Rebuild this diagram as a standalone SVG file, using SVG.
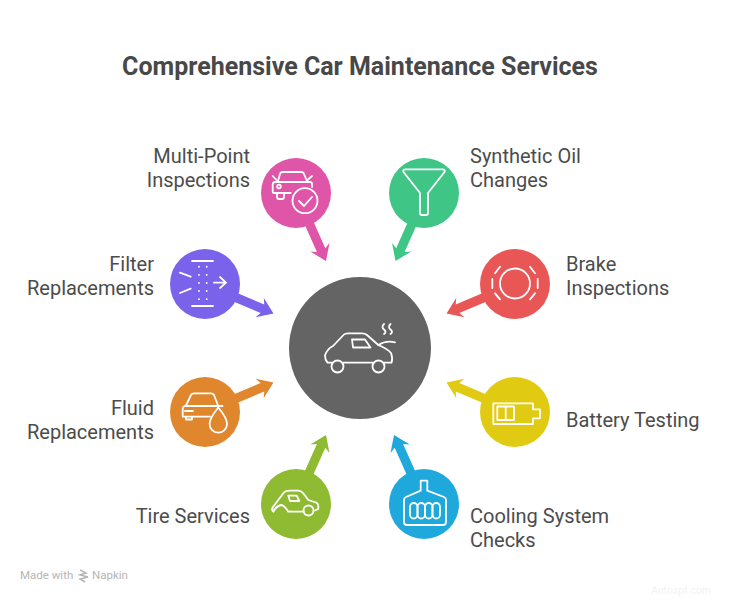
<svg xmlns="http://www.w3.org/2000/svg" width="732" height="600" viewBox="0 0 732 600">
<defs><path id="arrow" d="M0 0L-15 -10.500L-12 -4.600H-55V4.600H-12L-15 10.500Z"/></defs>
<style>
text{font-family:Roboto,"Liberation Sans",sans-serif;font-size:20px;fill:#4c4c4c}
.t{font-size:25px;font-weight:700;fill:#484848}
.i{fill:none;stroke:#fff;stroke-width:1.8;stroke-linecap:round;stroke-linejoin:round}
.r{text-anchor:end}
.f{font-size:11.500px;fill:#b5b5b5}
</style>
<rect width="732" height="600" fill="#fff"/>
<text class="t" x="360" y="75" text-anchor="middle">Comprehensive Car Maintenance Services</text>
<g id="connectors">
<use href="#arrow" fill="#df56a9" transform="translate(326 261) rotate(66)"/>
<use href="#arrow" fill="#3fc586" transform="translate(395.500 261) rotate(114)"/>
<use href="#arrow" fill="#7a62ea" transform="translate(273.500 313.500) rotate(23)"/>
<use href="#arrow" fill="#e85656" transform="translate(446.500 313.500) rotate(157)"/>
<use href="#arrow" fill="#e0862d" transform="translate(273.500 382.500) rotate(-23)"/>
<use href="#arrow" fill="#e1cb12" transform="translate(446.500 382.500) rotate(203)"/>
<use href="#arrow" fill="#8fbb33" transform="translate(326 435) rotate(-66)"/>
<use href="#arrow" fill="#1fa8dc" transform="translate(394 435) rotate(-114)"/>
</g>
<g id="center"><circle cx="360" cy="348" r="71" fill="#646464"/>
<path class="i" d="M331.500 362.700H327.500Q325 360 325 355.500Q327 349 333 346L344 334.500Q345 333.300 348 333.300H362Q365 333.300 367 335L378.300 345Q388 349 391 353Q393 358 391.500 362.700H384.500M372.500 362.700H343.500"/>
<circle class="i" cx="337.500" cy="366.500" r="6"/><circle class="i" cx="378.500" cy="366.500" r="6"/>
<path class="i" d="M352 339.500H365L370.500 347.500H353ZM378.300 345Q386 340 395 342.300M384 324Q381 327 384 329.500T384 334M390.500 324Q387.500 327 390.500 329.500T390.500 334"/></g>
<g id="multi-point"><circle cx="296" cy="193" r="35" fill="#df56a9"/>
<path class="i" d="M278 181L280 174Q280.500 172 283 172H301Q303.500 172 304 174L307 181M272.700 176L277 180.500M312 176L307 180.500M272.700 185Q272.700 182 275 182H310Q312 182 312 184V187M272.700 185V192Q272.700 193 274 193H290.700M277 193V197Q277 199 279 199H282Q284 199 284 197V193"/><circle class="i" cx="279" cy="186.500" r="1.800"/><circle class="i" cx="305" cy="200.700" r="12.500"/><path class="i" d="M299 201L304 206L312 197"/>
<text class="r" x="250" y="163">Multi-Point</text><text class="r" x="250" y="187">Inspections</text></g>
<g id="synthetic-oil"><circle cx="424" cy="193" r="35" fill="#3fc586"/>
<path class="i" d="M405.500 169.300H442.500Q445.500 169.300 444.500 172L428 193V213Q428 215 426 215H422Q420 215 420 213V193L403.500 172Q402.500 169.300 405.500 169.300Z"/>
<text x="470" y="163">Synthetic Oil</text><text x="470" y="187">Changes</text></g>
<g id="filter"><circle cx="205" cy="284" r="35" fill="#7a62ea"/>
<path class="i" d="M192 261H213M192 306H213M180 272.700L190.700 276.700M180 293L190.700 288.700M214 282.700H226M220 277L226 282.700L220 288"/>
<path class="i" stroke-dasharray="0.100 8" d="M199 266.700V300M206.700 266.700V300"/>
<text class="r" x="154" y="271">Filter</text><text class="r" x="154" y="295">Replacements</text></g>
<g id="brake"><circle cx="515" cy="284" r="35" fill="#e85656"/>
<circle class="i" cx="515" cy="283.500" r="15"/><path class="i" d="M492.300 279V288M537.700 279V288M495 273.300L500 266.700M535 273.300L530 266.700M495 293.300L500 299.300M535 293.300L530 299.300"/>
<text x="566" y="271">Brake</text><text x="566" y="295">Inspections</text></g>
<g id="fluid"><circle cx="205" cy="412" r="35" fill="#e0862d"/>
<path class="i" d="M186 405.500L191 395Q192 393.300 194 393.300H211Q213 393.300 214 395L218 405.500M184.500 406H222.500M184.500 406Q182.700 407 182.700 409V416.700H210M185 411H193M186 417V419.500H192V417"/><path class="i" d="M218.300 407.500Q227 418 227 424A8.700 8.700 0 0 1 209.600 424Q209.600 418 218.300 407.500Z"/>
<text class="r" x="154" y="415">Fluid</text><text class="r" x="154" y="439">Replacements</text></g>
<g id="battery"><circle cx="515" cy="412" r="35" fill="#e1cb12"/>
<path class="i" d="M493.300 403.300H533V409.300H540V418.300H533V424H493.300ZM497.300 406.500H514V420H497.300ZM505.700 406.500V420"/>
<text x="566" y="427">Battery Testing</text></g>
<g id="tire"><circle cx="296" cy="504" r="35" fill="#8fbb33"/>
<path class="i" d="M304 511.700H288.300Q284 505 281 505Q276 506 273.500 511.700Q271 510 273 507L283.300 493.300Q285 490.700 290 490.700H298Q301 490.700 303 493L308.300 500L316 502.500Q318.300 503.500 318.300 506V509L315 510.500M288.300 495.700H296.700L299.300 501H290Z"/><circle class="i" cx="308.500" cy="510.500" r="5"/>
<text class="r" x="250" y="523">Tire Services</text></g>
<g id="cooling"><circle cx="424" cy="504" r="35" fill="#1fa8dc"/>
<path class="i" d="M420.700 480.700H427.300V490.700L444 497Q446 498 446 500V522Q446 525 443 525H407Q404 525 404 522V500Q404 498 406 497L420.700 490.700Z"/>
<rect class="i" x="410" y="503" width="7.500" height="15.500" rx="3.700"/><rect class="i" x="417.500" y="503" width="7.500" height="15.500" rx="3.700"/><rect class="i" x="425" y="503" width="7.500" height="15.500" rx="3.700"/><rect class="i" x="432.500" y="503" width="7.500" height="15.500" rx="3.700"/>
<text x="470" y="523">Cooling System</text><text x="470" y="547">Checks</text></g>
<g id="footer">
<text class="f" x="20" y="579">Made with</text>
<path d="M80 570L86 573L80 575L88 577L80 579L85 582" stroke="#b5b5b5" stroke-width="1.500" fill="none"/>
<text class="f" x="92" y="579">Napkin</text>
<text x="651" y="594" style="font-size:10.500px;fill:#f3f3f3">Autospt.com</text>
</g>
</svg>
